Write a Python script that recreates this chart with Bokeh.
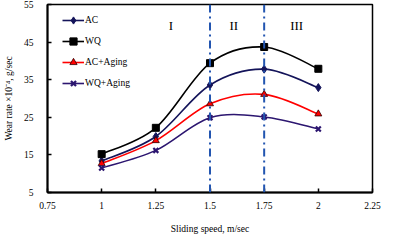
from bokeh.plotting import figure
from bokeh.models import Span, Legend, LegendItem, FixedTicker, Range1d, Label
from bokeh.embed import file_html
from bokeh.resources import INLINE

speed = [1.0, 1.25, 1.5, 1.75, 2.0]
ac = [13.4, 19.9, 33.6, 37.8, 32.9]
wq = [15.2, 22.2, 39.4, 43.7, 37.9]
ac_aging = [12.7, 18.8, 28.6, 31.1, 25.9]
wq_aging = [11.5, 16.2, 24.9, 25.1, 21.9]
x_ticks = [0.75, 1.0, 1.25, 1.5, 1.75, 2.0, 2.25]
x_tick_labels = ["0.75", "1", "1.25", "1.5", "1.75", "2", "2.25"]
y_ticks = [5, 15, 25, 35, 45, 55]
region_x = [1.5, 1.75]
region_labels = ["I", "II", "III"]
region_label_x = [1.32, 1.61, 1.9]
region_label_y = 49.3

SERIF = "Liberation Serif"

p = figure(width=385, height=237, output_backend="svg", toolbar_location=None,
           x_range=Range1d(0.75, 2.25), y_range=Range1d(5, 55),
           min_border_left=38, min_border_right=13, min_border_top=4, min_border_bottom=45)
p.grid.visible = False
p.outline_line_color = "black"
p.outline_line_width = 1.5
p.background_fill_color = "white"

for ax in (p.xaxis[0], p.yaxis[0]):
    ax.axis_line_width = 2
    ax.axis_line_color = "black"
    ax.major_tick_in = 4
    ax.major_tick_out = 0
    ax.minor_tick_in = 0
    ax.minor_tick_out = 0
    ax.major_tick_line_width = 1.5
    ax.major_label_text_font = SERIF
    ax.major_label_text_font_size = "9.5px"
    ax.major_label_text_color = "black"
    ax.axis_label_text_font = SERIF
    ax.axis_label_text_font_size = "9.5px"
    ax.axis_label_text_font_style = "normal"
    ax.axis_label_text_color = "black"

p.xaxis.ticker = FixedTicker(ticks=x_ticks)
p.xaxis.major_label_overrides = {t: l for t, l in zip(x_ticks, x_tick_labels)}
p.yaxis.ticker = FixedTicker(ticks=y_ticks)
p.xaxis.major_label_standoff = 9
p.yaxis.major_label_standoff = 14
p.xaxis.axis_label = "Sliding speed, m/sec"
p.xaxis.axis_label_standoff = 12
p.yaxis.axis_label = "Wear rate \u00d710\u207b\u2074, g/sec"
p.yaxis.axis_label_standoff = 7

for xv in region_x:
    p.add_layout(Span(location=xv, dimension="height", line_color="#2255b0",
                      line_width=2, line_dash="8 4 2 4"))

for lab, lx in zip(region_labels, region_label_x):
    p.add_layout(Label(x=lx, y=region_label_y, text=lab, text_font=SERIF,
                       text_font_size="13px", text_align="center",
                       text_baseline="middle", text_color="black"))


def bezier_segments(xs, ys):
    n = len(xs)
    out = dict(x0=[], y0=[], x1=[], y1=[], cx0=[], cy0=[], cx1=[], cy1=[])
    for i in range(n - 1):
        xm, ym = (xs[i - 1], ys[i - 1]) if i > 0 else (xs[i], ys[i])
        xp, yp = (xs[i + 2], ys[i + 2]) if i + 2 < n else (xs[i + 1], ys[i + 1])
        out["x0"].append(xs[i]); out["y0"].append(ys[i])
        out["x1"].append(xs[i + 1]); out["y1"].append(ys[i + 1])
        out["cx0"].append(xs[i] + (xs[i + 1] - xm) / 6)
        out["cy0"].append(ys[i] + (ys[i + 1] - ym) / 6)
        out["cx1"].append(xs[i + 1] - (xp - xs[i]) / 6)
        out["cy1"].append(ys[i + 1] - (yp - ys[i]) / 6)
    return out


series = [
    ("AC", ac, "#14145a", "diamond", 8, "#14145a"),
    ("WQ", wq, "black", "square", 7, "black"),
    ("AC+Aging", ac_aging, "red", "triangle", 7, "red"),
    ("WQ+Aging", wq_aging, "#2c1670", "x", 7, "#2c1670"),
]

items = []
for name, ys, col, marker, size, mcol in series:
    seg = bezier_segments(speed, ys)
    bz = p.bezier(source=seg, x0="x0", y0="y0", x1="x1", y1="y1",
                  cx0="cx0", cy0="cy0", cx1="cx1", cy1="cy1",
                  line_color=col, line_width=1.6)
    if marker == "x":
        mk = p.scatter(speed, ys, marker=marker, size=size, line_color=mcol,
                       line_width=2.2)
    elif marker == "triangle":
        mk = p.scatter(speed, ys, marker=marker, size=size, fill_color=mcol,
                       line_color="#300000", line_width=0.8)
    else:
        mk = p.scatter(speed, ys, marker=marker, size=size, fill_color=mcol,
                       line_color=mcol)
    items.append(LegendItem(label=name, renderers=[bz, mk]))

legend = Legend(items=items, location=(15, 100), margin=0, padding=0,
                spacing=3, glyph_height=18, label_height=18, glyph_width=22,
                label_standoff=1, border_line_alpha=0, background_fill_alpha=0,
                label_text_font=SERIF, label_text_font_size="9.5px",
                label_text_color="black")
p.add_layout(legend)

open("out.html", "w").write(file_html(p, INLINE))
